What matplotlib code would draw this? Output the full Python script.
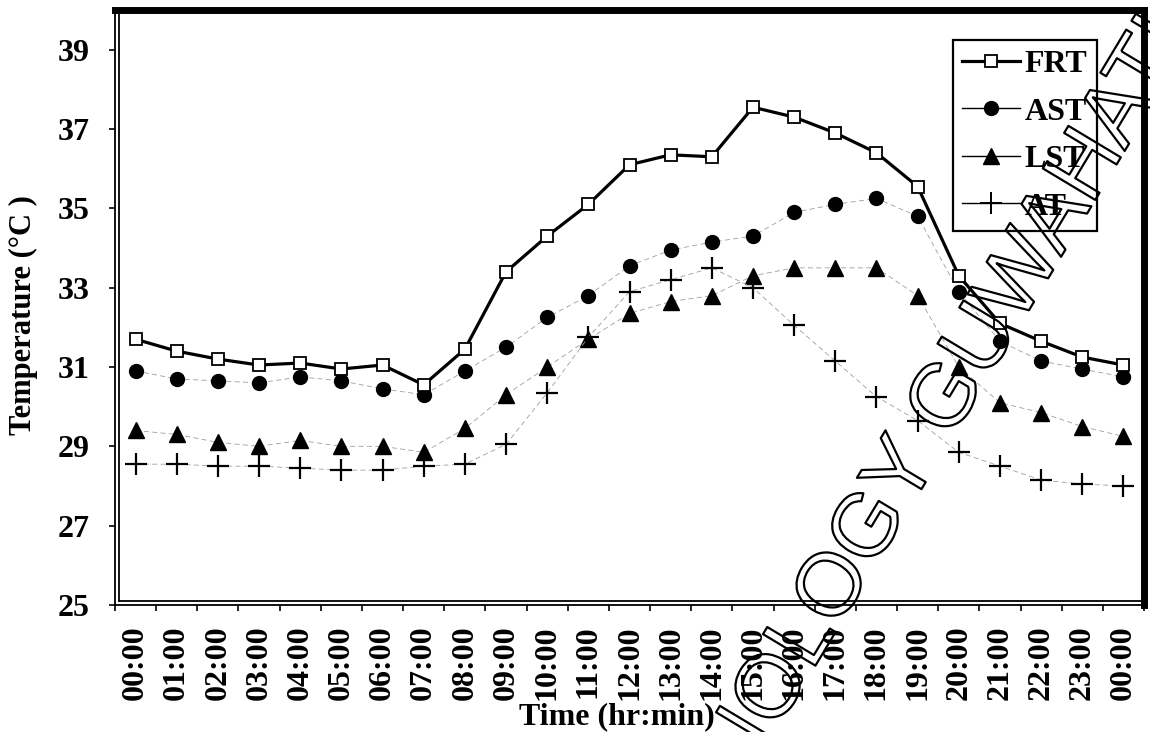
import matplotlib
matplotlib.use("Agg")
import matplotlib.pyplot as plt
import matplotlib.patheffects as pe
from matplotlib.lines import Line2D
import numpy as np

# hourly readings over one day (last point is midnight of the next day)
hours = [
    "00:00", "01:00", "02:00", "03:00", "04:00", "05:00", "06:00", "07:00",
    "08:00", "09:00", "10:00", "11:00", "12:00", "13:00", "14:00", "15:00",
    "16:00", "17:00", "18:00", "19:00", "20:00", "21:00", "22:00", "23:00",
    "00:00",
]
frt = [31.7, 31.4, 31.2, 31.05, 31.1, 30.95, 31.05, 30.55, 31.45, 33.4,
       34.3, 35.1, 36.1, 36.35, 36.3, 37.55, 37.3, 36.9, 36.4, 35.55,
       33.3, 32.1, 31.65, 31.25, 31.05]
ast = [30.9, 30.7, 30.65, 30.6, 30.75, 30.65, 30.45, 30.3, 30.9, 31.5,
       32.25, 32.8, 33.55, 33.95, 34.15, 34.3, 34.9, 35.1, 35.25, 34.8,
       32.9, 31.65, 31.15, 30.95, 30.75]
lst = [29.4, 29.3, 29.1, 29.0, 29.15, 29.0, 29.0, 28.85, 29.45, 30.3,
       31.0, 31.7, 32.35, 32.65, 32.8, 33.3, 33.5, 33.5, 33.5, 32.8,
       31.0, 30.1, 29.85, 29.5, 29.25]
at = [28.55, 28.55, 28.5, 28.5, 28.45, 28.4, 28.4, 28.5, 28.55, 29.05,
      30.35, 31.75, 32.9, 33.2, 33.5, 33.0, 32.05, 31.15, 30.25, 29.65,
      28.85, 28.5, 28.15, 28.05, 28.0]

plt.rcParams["font.family"] = ["Liberation Serif", "DejaVu Serif"]
plt.rcParams["font.weight"] = "bold"

fig = plt.figure(figsize=(11.5, 7.32), dpi=100)
ax = fig.add_axes([0.1, 0.1735, 0.8948, 0.8128])

x = np.arange(len(hours))
thin = dict(color="0.62", lw=0.6, ls=(0, (6, 4)))

ax.plot(x, frt, color="black", lw=2.3, marker="s", ms=8.5,
        mfc="white", mec="black", mew=1.3, zorder=4)
ax.plot(x, ast, marker="o", ms=10, mfc="black", mec="black", zorder=3, **thin)
ax.plot(x, lst, marker="^", ms=11, mfc="black", mec="black", zorder=3, **thin)
ax.plot(x, at, marker="+", ms=16, mec="black", mew=1.6, zorder=3, **thin)

ax.set_xlim(-0.5, len(hours) - 0.5)
ax.set_ylim(25, 40)
ax.set_yticks(np.arange(25, 40, 2))
ax.set_xticks(x)
ax.set_xticklabels(hours, rotation=90)
ax.set_xticks(np.arange(-0.5, len(hours), 1), minor=True)
ax.tick_params(axis="x", which="major", length=0, pad=15, labelsize=23)
ax.tick_params(axis="x", which="minor", length=4.5, width=1.2, direction="out")
ax.tick_params(axis="y", length=4.5, width=1.2, direction="out", pad=14,
               labelsize=23)

# heavy frame on top/right, double rule on left/bottom
for side in ("top", "right"):
    ax.spines[side].set_linewidth(5)
for side in ("left", "bottom"):
    ax.spines[side].set_linewidth(1.3)
ax.plot([0.004, 0.004], [0.007, 1], transform=ax.transAxes, color="black",
        lw=1.3, clip_on=False)
ax.plot([0.004, 1], [0.007, 0.007], transform=ax.transAxes, color="black",
        lw=1.3, clip_on=False)

ax.set_ylabel("Temperature (°C )", fontsize=22, fontweight="bold")
ax.yaxis.set_label_coords(-0.075, 0.487)
ax.set_xlabel("Time (hr:min)", fontsize=23, fontweight="bold")
ax.xaxis.set_label_coords(0.488, -0.163)

handles = [
    Line2D([], [], color="black", lw=2.3, marker="s", ms=8.5, mfc="white",
           mec="black", mew=1.3),
    Line2D([], [], color="black", lw=1.0, marker="o", ms=10),
    Line2D([], [], color="black", lw=1.0, marker="^", ms=11),
    Line2D([], [], color="black", lw=1.0, marker="+", ms=16, mew=1.4),
]
leg = ax.legend(handles, ["FRT", "AST", "LST", "AT"], loc="upper right",
                bbox_to_anchor=(0.9543, 0.9496), borderaxespad=0,
                fancybox=False, framealpha=1, edgecolor="black",
                prop={"size": 23, "weight": "bold"}, handlelength=1.8,
                handletextpad=0.15, labelspacing=0.57, borderpad=0.3)
leg.get_frame().set_linewidth(1.6)

# repository watermark running diagonally across the plot, outline letters only
fig.text(0.770, 0.311, "TECHNOLOGY GUWAHATI", rotation=59,
         rotation_mode="anchor", ha="center", va="center", fontsize=64,
         family="Liberation Sans", fontweight="normal", color=(1, 1, 1, 0),
         path_effects=[pe.Stroke(linewidth=1.6, foreground="black")],
         zorder=10)

fig.savefig("out.png", dpi=100)
